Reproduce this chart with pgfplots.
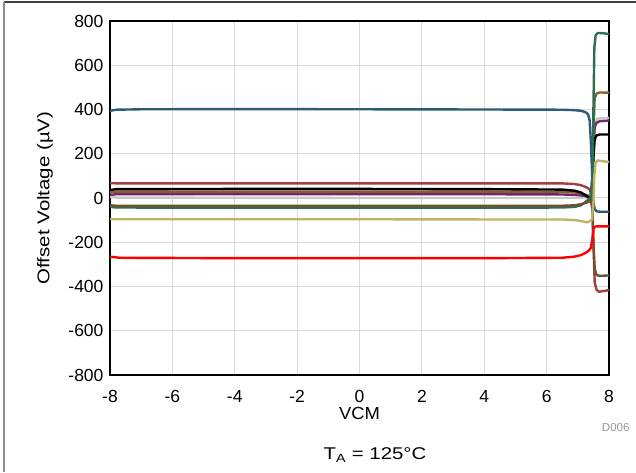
\documentclass[border=0pt]{standalone}
\usepackage{fontspec}
\setmainfont{Liberation Sans}
\usepackage{graphicx}
\usepackage{pgfplots}
\pgfplotsset{compat=1.18}
\definecolor{cBlue}{RGB}{42,92,122}
\definecolor{cGreen}{RGB}{40,112,80}
\definecolor{cDarkRed}{RGB}{165,62,62}
\definecolor{cBrown}{RGB}{140,92,42}
\definecolor{cPurple}{RGB}{110,40,110}
\definecolor{cGray}{RGB}{200,200,200}
\definecolor{cDarkBrown}{RGB}{112,80,46}
\definecolor{cKhaki}{RGB}{190,180,100}
\definecolor{cGrid}{RGB}{217,217,217}
\begin{document}
\begin{tikzpicture}[x=1pt,y=1pt]
\useasboundingbox (0,0) rectangle (636,472);
\draw[line width=1.2pt,black!75] (3.5,470) -- (636,470);
\draw[line width=1.5pt,black!45] (4,0) -- (4,470);
\begin{axis}[
  at={(110pt,97pt)}, anchor=south west,
  scale only axis, width=499pt, height=354pt,
  xmin=-8, xmax=8, ymin=-800, ymax=800,
  xtick={-8,-6,...,8}, ytick={-800,-600,...,800},
  major tick length=0pt,
  grid=major,
  major grid style={cGrid, line width=1pt},
  axis line style={black, line width=2pt},
  /pgf/number format/assume math mode=true,
  ticklabel style={font=\fontsize{17.5}{20}\selectfont},
  xticklabel style={inner sep=0pt, yshift=-15.5pt},
  yticklabel style={xshift=-3pt},
  xlabel={\scalebox{1.05}[1]{VCM}},
  xlabel style={font=\fontsize{17.5}{20}\selectfont, inner sep=0pt, at={(axis description cs:0.5,-0.1095)}, anchor=center},
  ylabel={\scalebox{1.2}[1]{Offset Voltage (µV)}},
  ylabel style={font=\fontsize{17}{20}\selectfont, at={(axis description cs:-0.1303,0.5)}, anchor=center},
  every axis plot/.append style={line width=2.4pt, line join=round, line cap=round},
  clip=true,
]
% light gray
\addplot[cGray] coordinates {(-8,5) (-7.8,2) (-4,1) (0,0) (4,0) (6.5,0) (7.0,0) (7.42,0) (7.47,100) (7.5,250) (7.55,340) (7.62,358) (7.75,361) (8,362)};
% purple
\addplot[cPurple] coordinates {(-8,14) (-7.8,17) (-4,17) (0,17) (4,17) (6.5,16) (6.9,14) (7.2,10) (7.42,5) (7.47,80) (7.5,220) (7.54,320) (7.6,340) (7.7,347) (8,350)};
% orange brown
\addplot[cBrown] coordinates {(-8,26) (-7.8,29) (-4,29) (0,29) (4,29) (6.5,28) (6.9,25) (7.1,20) (7.3,12) (7.42,5) (7.47,100) (7.5,300) (7.54,450) (7.6,472) (7.7,477) (8,476)};
% black
\addplot[black] coordinates {(-8,36) (-7.8,40) (-4,41) (0,41) (4,40) (6.5,38) (6.9,33) (7.1,25) (7.25,12) (7.35,2) (7.43,-5) (7.47,50) (7.5,180) (7.54,265) (7.6,283) (7.7,287) (8,287)};
% dark red
\addplot[cDarkRed] coordinates {(-8,68) (-7.8,66) (-4,66) (0,66) (4,66) (6.5,66) (6.9,63) (7.1,58) (7.25,50) (7.38,40) (7.45,0) (7.5,-200) (7.54,-380) (7.6,-415) (7.68,-424) (7.85,-420) (8,-416)};
% blue
\addplot[cBlue] coordinates {(-8,394) (-7.8,399) (-7,401) (-4,402) (0,401) (4,400) (6.5,399) (6.9,397) (7.1,394) (7.25,388) (7.33,378) (7.38,350) (7.42,250) (7.46,100) (7.5,-20) (7.54,-50) (7.6,-60) (7.7,-62) (8,-62)};
% green
\addplot[cGreen] coordinates {(-8,-40) (-7.8,-43) (-4,-44) (0,-44) (4,-44) (6.5,-43) (6.9,-40) (7.1,-33) (7.3,-12) (7.42,5) (7.47,100) (7.5,400) (7.53,680) (7.57,735) (7.64,746) (7.8,745) (8,741)};
% dark brown
\addplot[cDarkBrown] coordinates {(-8,-33) (-7.8,-35) (-4,-35) (0,-35) (4,-35) (6.5,-35) (6.9,-33) (7.1,-28) (7.3,-20) (7.42,-12) (7.47,-50) (7.5,-200) (7.54,-320) (7.6,-348) (7.7,-352) (8,-350)};
% khaki
\addplot[cKhaki] coordinates {(-8,-96) (-7.8,-96) (-4,-96) (0,-96) (4,-97) (6.5,-97) (6.9,-100) (7.1,-104) (7.3,-110) (7.45,-100) (7.5,-20) (7.53,100) (7.57,160) (7.64,170) (7.8,166) (8,163)};
% red
\addplot[red] coordinates {(-8,-265) (-7.7,-270) (-4,-272) (0,-272) (4,-272) (6.5,-270) (6.9,-265) (7.1,-258) (7.25,-248) (7.35,-238) (7.42,-225) (7.47,-180) (7.5,-140) (7.54,-130) (7.62,-128) (8,-128)};
\end{axis}
\node[font=\fontsize{11.5}{13}\selectfont, text=black!40, anchor=east] at (633,44) {D006};
\node[font=\fontsize{17}{20}\selectfont] at (375,17) {\scalebox{1.2}[1]{T\textsubscript{A} = 125°C}};
\end{tikzpicture}
\end{document}
